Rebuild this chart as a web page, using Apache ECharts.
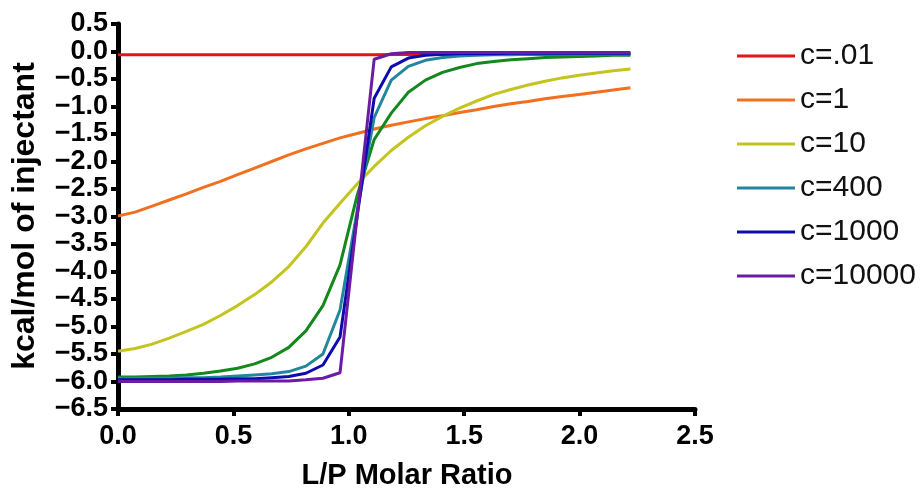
<!DOCTYPE html>
<html>
<head>
<meta charset="utf-8">
<script src="https://cdn.jsdelivr.net/npm/echarts@6/dist/echarts.min.js"></script>
<style>html,body{margin:0;padding:0;background:#fff}#c{width:924px;height:500px}</style>
</head>
<body>
<div id="c"></div>
<script>
// L/P molar ratio at each injection
var xValues = [0, 0.074, 0.148, 0.222, 0.296, 0.37, 0.444, 0.518, 0.592, 0.666, 0.74, 0.814, 0.888, 0.962, 1.036, 1.11, 1.184, 1.258, 1.332, 1.406, 1.48, 1.554, 1.628, 1.702, 1.776, 1.85, 1.924, 1.998, 2.072, 2.146, 2.22];
var c001 = [-0.06, -0.06, -0.06, -0.06, -0.06, -0.06, -0.06, -0.06, -0.06, -0.06, -0.06, -0.06, -0.06, -0.06, -0.06, -0.06, -0.055, -0.055, -0.055, -0.055, -0.055, -0.055, -0.055, -0.055, -0.055, -0.055, -0.055, -0.055, -0.055, -0.055, -0.055];
var c1 = [-2.99, -2.92, -2.81, -2.70, -2.59, -2.47, -2.36, -2.24, -2.12, -2.00, -1.88, -1.77, -1.67, -1.57, -1.49, -1.41, -1.34, -1.28, -1.22, -1.17, -1.11, -1.06, -1.00, -0.95, -0.91, -0.86, -0.82, -0.78, -0.74, -0.70, -0.66];
var c10 = [-5.45, -5.40, -5.32, -5.21, -5.09, -4.96, -4.80, -4.62, -4.42, -4.19, -3.91, -3.55, -3.12, -2.76, -2.41, -2.09, -1.80, -1.56, -1.35, -1.18, -1.03, -0.90, -0.78, -0.69, -0.61, -0.54, -0.48, -0.43, -0.39, -0.35, -0.32];
var c100 = [-5.92, -5.92, -5.91, -5.90, -5.88, -5.85, -5.81, -5.76, -5.68, -5.56, -5.38, -5.08, -4.62, -3.88, -2.62, -1.60, -1.12, -0.74, -0.52, -0.38, -0.29, -0.22, -0.18, -0.15, -0.13, -0.11, -0.10, -0.09, -0.08, -0.07, -0.07];
var c400 = [-5.94, -5.94, -5.94, -5.94, -5.93, -5.93, -5.92, -5.90, -5.88, -5.86, -5.82, -5.72, -5.50, -4.70, -2.90, -1.20, -0.52, -0.27, -0.16, -0.11, -0.08, -0.07, -0.06, -0.06, -0.05, -0.05, -0.05, -0.05, -0.04, -0.04, -0.04];
var c1000 = [-5.97, -5.97, -5.97, -5.97, -5.96, -5.96, -5.96, -5.95, -5.95, -5.93, -5.91, -5.85, -5.70, -5.19, -3.00, -0.85, -0.28, -0.12, -0.07, -0.05, -0.04, -0.04, -0.04, -0.03, -0.03, -0.03, -0.03, -0.03, -0.03, -0.03, -0.03];
var c10000 = [-6.00, -6.00, -6.00, -6.00, -6.00, -6.00, -6.00, -5.99, -5.99, -5.99, -5.99, -5.97, -5.94, -5.84, -3.00, -0.14, -0.04, -0.02, -0.02, -0.02, -0.02, -0.02, -0.02, -0.02, -0.02, -0.02, -0.02, -0.02, -0.02, -0.02, -0.02];
var seriesNames = ['c=.01', 'c=1', 'c=10', 'c=100', 'c=400', 'c=1000', 'c=10000'];
var legendNames = ['c=.01', 'c=1', 'c=10', 'c=400', 'c=1000', 'c=10000'];
var seriesData = [c001, c1, c10, c100, c400, c1000, c10000];
var seriesColors = ['#e4141b', '#f07020', '#c4c420', '#14881c', '#23879c', '#0c0cae', '#6c1ca4'];
var yTicks = {min: -6.5, max: 0.5, interval: 0.5};
var xTicks = {min: 0, max: 2.5, interval: 0.5};

var FONT = "'Liberation Sans', Arial, Helvetica, sans-serif";
var chart = echarts.init(document.getElementById('c'), null, {renderer: 'canvas'});
var series = seriesNames.map(function (name, i) {
  return {
    name: name,
    type: 'line',
    data: xValues.map(function (x, j) { return [x, seriesData[i][j]]; }),
    showSymbol: false,
    symbol: 'none',
    lineStyle: {color: seriesColors[i], width: 3},
    itemStyle: {color: seriesColors[i]},
    z: 2 + i,
    animation: false
  };
});
function fmt(v) { return (v < 0 ? '\u2212' : '') + Math.abs(v).toFixed(1); }
var axisCommon = {
  axisLine: {show: true, onZero: false, lineStyle: {color: '#000', width: 5}},
  axisTick: {show: true, inside: false, length: 7, lineStyle: {color: '#000', width: 4}},
  splitLine: {show: false},
  axisLabel: {color: '#000', fontFamily: FONT, fontWeight: 'bold', formatter: fmt}
};
chart.setOption({
  animation: false,
  backgroundColor: '#fff',
  grid: {left: 118, right: 229, top: 24, bottom: 91},
  xAxis: echarts.util.merge({
    type: 'value', min: xTicks.min, max: xTicks.max, interval: xTicks.interval,
    axisLabel: {fontSize: 27, margin: 14}
  }, axisCommon, false),
  yAxis: echarts.util.merge({
    type: 'value', min: yTicks.min, max: yTicks.max, interval: yTicks.interval,
    axisLabel: {fontSize: 27, margin: 10}
  }, axisCommon, false),
  legend: {
    data: legendNames,
    orient: 'vertical',
    left: 732, top: 36,
    icon: 'rect',
    itemWidth: 58, itemHeight: 3,
    itemGap: 14,
    textStyle: {fontFamily: FONT, fontSize: 30, color: '#111', lineHeight: 30}
  },
  graphic: [
    {type: 'text', x: 25, y: 216, rotation: Math.PI / 2,
      style: {text: 'kcal/mol of injectant', font: 'bold 32px ' + FONT, fill: '#000', textAlign: 'center', textVerticalAlign: 'middle'}},
    {type: 'text', x: 407, y: 476,
      style: {text: 'L/P Molar Ratio', font: 'bold 29px ' + FONT, fill: '#000', textAlign: 'center', textVerticalAlign: 'middle'}}
  ],
  series: series
});
</script>
</body>
</html>
